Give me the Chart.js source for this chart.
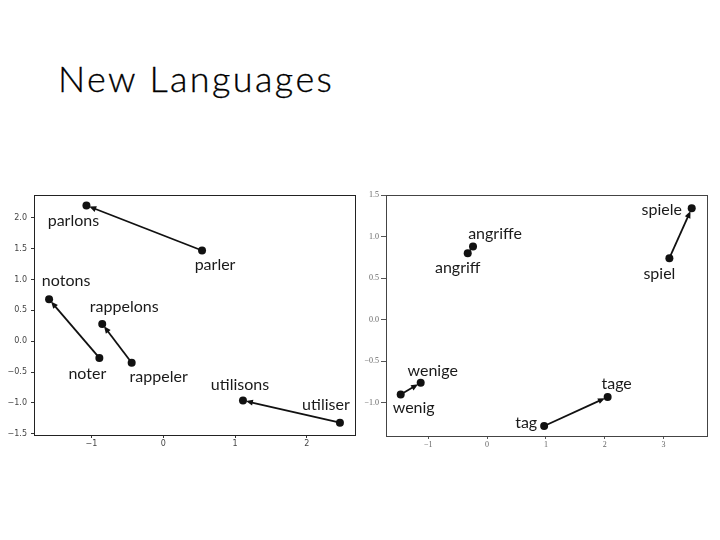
<!DOCTYPE html>
<html>
<head>
<meta charset="utf-8">
<script src="https://cdn.jsdelivr.net/npm/chart.js@4/dist/chart.umd.min.js"></script>
<style>
  html, body { margin: 0; padding: 0; background: #fff; }
  body { width: 720px; height: 540px; position: relative; overflow: hidden; }
  #title { position: absolute; left: 58px; top: 60px; font-family: Lato, "Open Sans", sans-serif; font-size: 36px; line-height: 36px; letter-spacing: 2.4px; color: #000; font-weight: 300; white-space: nowrap; -webkit-text-stroke: 0.3px #000; }
  .wrap { position: absolute; top: 180px; height: 270px; }
  #w1 { left: 0; width: 362px; }
  #w2 { left: 356px; width: 364px; }
</style>
</head>
<body>
<div id="title">New Languages</div>
<div class="wrap" id="w1"><canvas id="c1"></canvas></div>
<div class="wrap" id="w2"><canvas id="c2"></canvas></div>
<script>
// ---- Left chart data (French: infinitive -> "nous" form) ----
const leftFromWords = ['parler', 'noter', 'rappeler', 'utiliser'];
const leftFromX = [0.54, -0.89, -0.44, 2.46];
const leftFromY = [1.47, -0.27, -0.35, -1.32];
const leftToWords = ['parlons', 'notons', 'rappelons', 'utilisons'];
const leftToX = [-1.07, -1.59, -0.85, 1.11];
const leftToY = [2.20, 0.68, 0.28, -0.96];
const leftXTicks = [-1, 0, 1, 2];
const leftYTicks = [-1.5, -1.0, -0.5, 0.0, 0.5, 1.0, 1.5, 2.0];

// ---- Right chart data (German: singular -> plural) ----
const rightFromWords = ['spiel', 'angriff', 'wenig', 'tag'];
const rightFromX = [3.10, -0.33, -1.47, 0.97];
const rightFromY = [0.74, 0.80, -0.90, -1.28];
const rightToWords = ['spiele', 'angriffe', 'wenige', 'tage'];
const rightToX = [3.48, -0.24, -1.13, 2.05];
const rightToY = [1.34, 0.88, -0.76, -0.93];
const rightXTicks = [-1, 0, 1, 2, 3];
const rightYTicks = [-1.0, -0.5, 0.0, 0.5, 1.0, 1.5];

// label pixel offsets (style, not data)
const leftFromOffsets = [[13, 14], [-12, 16], [27, 14], [-14, -18]];
const leftToOffsets = [[-13, 15], [17, -18], [22, -17], [-3, -16]];
const rightFromOffsets = [[-10, 16], [-10, 15], [13, 13], [-18, -3]];
const rightToOffsets = [[-30, 2], [22, -13], [12, -12], [9, -13]];

function minus(s) { return String(s).replace('-', '\u2212'); }

const arrowPlugin = {
  id: 'arrows',
  afterDatasetsDraw(chart, args, opts) {
    const ctx = chart.ctx, xs = chart.scales.x, ys = chart.scales.y;
    const a = chart.chartArea;
    ctx.save();
    // frame (all four spines)
    ctx.strokeStyle = opts.frameColor;
    ctx.lineWidth = 1;
    ctx.strokeRect(Math.round(a.left) + 0.5, Math.round(a.top) + 0.5, Math.round(a.right - a.left), Math.round(a.bottom - a.top));
    // arrows
    ctx.strokeStyle = '#111';
    ctx.fillStyle = '#111';
    ctx.lineWidth = 1.8;
    for (let i = 0; i < opts.fromX.length; i++) {
      const x1 = xs.getPixelForValue(opts.fromX[i]), y1 = ys.getPixelForValue(opts.fromY[i]);
      const x2 = xs.getPixelForValue(opts.toX[i]), y2 = ys.getPixelForValue(opts.toY[i]);
      const ang = Math.atan2(y2 - y1, x2 - x1);
      const tipX = x2 - Math.cos(ang) * 3, tipY = y2 - Math.sin(ang) * 3;
      ctx.beginPath();
      ctx.moveTo(x1, y1);
      ctx.lineTo(tipX - Math.cos(ang) * 4, tipY - Math.sin(ang) * 4);
      ctx.stroke();
      const L = 7, W = 3;
      ctx.beginPath();
      ctx.moveTo(tipX, tipY);
      ctx.lineTo(tipX - Math.cos(ang) * L + Math.sin(ang) * W, tipY - Math.sin(ang) * L - Math.cos(ang) * W);
      ctx.lineTo(tipX - Math.cos(ang) * L - Math.sin(ang) * W, tipY - Math.sin(ang) * L + Math.cos(ang) * W);
      ctx.closePath();
      ctx.fill();
    }
    // labels
    ctx.font = '16px Lato, "Open Sans", sans-serif';
    ctx.fillStyle = '#1a1a1a';
    ctx.textAlign = 'center';
    ctx.textBaseline = 'middle';
    const put = (words, X, Y, offs) => {
      for (let i = 0; i < words.length; i++) {
        const px = xs.getPixelForValue(X[i]), py = ys.getPixelForValue(Y[i]);
        ctx.fillText(words[i], px + offs[i][0], py + offs[i][1]);
      }
    };
    put(opts.fromWords, opts.fromX, opts.fromY, opts.fromOffsets);
    put(opts.toWords, opts.toX, opts.toY, opts.toOffsets);
    ctx.restore();
  }
};

function makeChart(id, cfg) {
  const pts = [];
  for (let i = 0; i < cfg.fromX.length; i++) {
    pts.push({x: cfg.fromX[i], y: cfg.fromY[i]});
    pts.push({x: cfg.toX[i], y: cfg.toY[i]});
  }
  return new Chart(document.getElementById(id), {
    type: 'scatter',
    data: { datasets: [{ data: pts, pointRadius: 4, pointBackgroundColor: '#111', pointBorderColor: '#111', pointBorderWidth: 0 }] },
    plugins: [arrowPlugin],
    options: {
      responsive: true,
      maintainAspectRatio: false,
      animation: false,
      layout: { padding: cfg.padding },
      plugins: {
        legend: { display: false },
        tooltip: { enabled: false },
        arrows: cfg
      },
      scales: {
        x: {
          type: 'linear', min: cfg.xMin, max: cfg.xMax,
          afterBuildTicks: s => { s.ticks = cfg.xTicks.map(v => ({value: v})); },
          afterFit: s => { s.height = cfg.xAxisH; },
          grid: { display: true, drawOnChartArea: false, drawTicks: true, tickLength: 3, color: cfg.tickColor },
          border: { display: true, color: cfg.frameColor, width: 1 },
          ticks: { font: { family: cfg.tickFont, size: 8 }, color: cfg.labelColor, padding: 1, maxRotation: 0,
                   callback: v => minus(v.toFixed(0)) }
        },
        y: {
          type: 'linear', min: cfg.yMin, max: cfg.yMax,
          afterBuildTicks: s => { s.ticks = cfg.yTicks.map(v => ({value: v})); },
          afterFit: s => { s.width = cfg.yAxisW; },
          grid: { display: true, drawOnChartArea: false, drawTicks: true, tickLength: cfg.yTickLen, color: cfg.tickColor },
          border: { display: true, color: cfg.frameColor, width: 1 },
          ticks: { font: { family: cfg.tickFont, size: 8 }, color: cfg.labelColor, padding: cfg.yPad,
                   callback: v => minus(Number(v).toFixed(1)) }
        }
      }
    }
  });
}

makeChart('c1', {
  fromWords: leftFromWords, fromX: leftFromX, fromY: leftFromY,
  toWords: leftToWords, toX: leftToX, toY: leftToY,
  fromOffsets: leftFromOffsets, toOffsets: leftToOffsets,
  xTicks: leftXTicks, yTicks: leftYTicks,
  xMin: -1.80, xMax: 2.67, yMin: -1.52, yMax: 2.37,
  padding: { top: 15, right: 7, left: 0, bottom: 0 },
  xAxisH: 15, yAxisW: 34, yTickLen: 3, yPad: 4,
  tickColor: '#333', labelColor: '#444', frameColor: '#222', tickFont: 'DejaVu Sans'
});

makeChart('c2', {
  fromWords: rightFromWords, fromX: rightFromX, fromY: rightFromY,
  toWords: rightToWords, toX: rightToX, toY: rightToY,
  fromOffsets: rightFromOffsets, toOffsets: rightToOffsets,
  xTicks: rightXTicks, yTicks: rightYTicks,
  xMin: -1.72, xMax: 3.74, yMin: -1.40, yMax: 1.50,
  padding: { top: 15, right: 13, left: 0, bottom: 0 },
  xAxisH: 14, yAxisW: 30, yTickLen: 5, yPad: 2,
  tickColor: '#555', labelColor: '#666', frameColor: '#444', tickFont: '"Liberation Serif"'
});
</script>
</body>
</html>
